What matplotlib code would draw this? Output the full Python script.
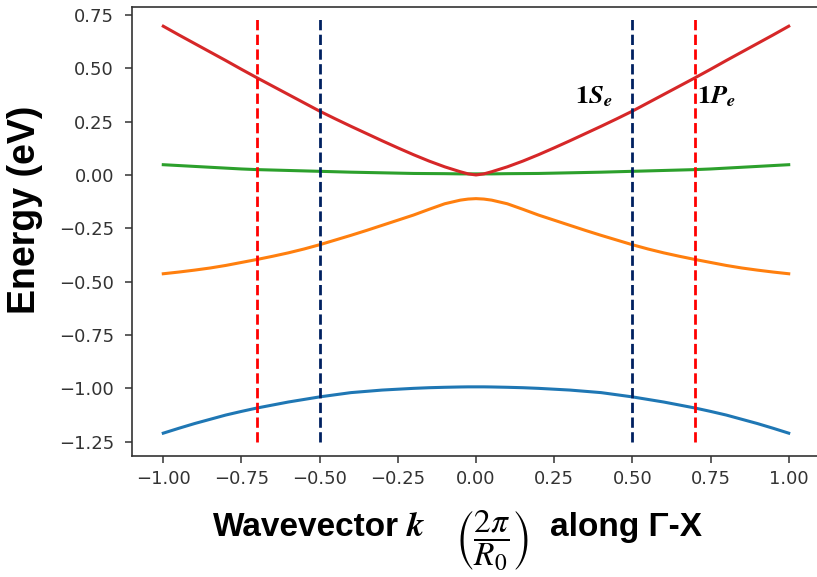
import matplotlib
matplotlib.use("Agg")
import matplotlib.pyplot as plt
import numpy as np

# wavevector samples (units of 2pi/R0)
k = [-1.0, -0.95, -0.9, -0.85, -0.8, -0.75, -0.7, -0.65, -0.6, -0.55, -0.5,
     -0.45, -0.4, -0.35, -0.3, -0.25, -0.2, -0.15, -0.1, -0.05, -0.025, 0.0,
     0.025, 0.05, 0.1, 0.15, 0.2, 0.25, 0.3, 0.35, 0.4, 0.45, 0.5,
     0.55, 0.6, 0.65, 0.7, 0.75, 0.8, 0.85, 0.9, 0.95, 1.0]

# bands (eV)
band_red = [0.697, 0.656, 0.616, 0.576, 0.536, 0.495, 0.455, 0.416, 0.377, 0.338, 0.299,
            0.263, 0.228, 0.194, 0.16, 0.127, 0.095, 0.065, 0.038, 0.015, 0.005, 0.0,
            0.005, 0.015, 0.038, 0.065, 0.095, 0.127, 0.16, 0.194, 0.228, 0.263, 0.299,
            0.338, 0.377, 0.416, 0.455, 0.495, 0.536, 0.576, 0.616, 0.656, 0.697]
band_green = [0.048, 0.044, 0.040, 0.036, 0.032, 0.028, 0.025, 0.023, 0.021, 0.019, 0.017,
              0.015, 0.013, 0.0115, 0.010, 0.0085, 0.007, 0.0065, 0.006, 0.005, 0.005, 0.005,
              0.005, 0.005, 0.006, 0.0065, 0.007, 0.0085, 0.010, 0.0115, 0.013, 0.015, 0.017,
              0.019, 0.021, 0.023, 0.025, 0.028, 0.032, 0.036, 0.040, 0.044, 0.048]
band_orange = [-0.463, -0.455, -0.446, -0.436, -0.424, -0.41, -0.396, -0.381, -0.365, -0.347, -0.327,
               -0.305, -0.283, -0.26, -0.236, -0.212, -0.188, -0.161, -0.135, -0.118, -0.113, -0.111,
               -0.113, -0.118, -0.135, -0.161, -0.188, -0.212, -0.236, -0.26, -0.283, -0.305, -0.327,
               -0.347, -0.365, -0.381, -0.396, -0.41, -0.424, -0.436, -0.446, -0.455, -0.463]
band_blue = [-1.21, -1.187, -1.165, -1.145, -1.125, -1.108, -1.092, -1.078, -1.064, -1.052, -1.04,
             -1.03, -1.02, -1.014, -1.008, -1.004, -1.0, -0.997, -0.995, -0.9935, -0.993, -0.993,
             -0.993, -0.9935, -0.995, -0.997, -1.0, -1.004, -1.008, -1.014, -1.02, -1.03, -1.04,
             -1.052, -1.064, -1.078, -1.092, -1.108, -1.125, -1.145, -1.165, -1.187, -1.21]

k_s = [-0.5, 0.5]   # 1S_e
k_p = [-0.7, 0.7]   # 1P_e

fig = plt.figure(figsize=(8.17, 5.77), dpi=100)
ax = fig.add_axes([132 / 817, 121 / 577, 688 / 817, 449 / 577])

ax.plot(k, band_blue, color="#1f77b4", lw=2.2)
ax.plot(k, band_orange, color="#ff7f0e", lw=2.2)
ax.plot(k, band_green, color="#2ca02c", lw=2.2)
ax.plot(k, band_red, color="#d62728", lw=2.2)

for x in k_p:
    ax.plot([x, x], [-1.25, 0.73], color="#ff0000", lw=2, ls="--")
for x in k_s:
    ax.plot([x, x], [-1.25, 0.73], color="#002060", lw=2, ls="--")

ax.set_xlim(-1.1, 1.1)
ax.set_ylim(-1.317, 0.787)
ax.set_xticks([-1.0, -0.75, -0.5, -0.25, 0.0, 0.25, 0.5, 0.75, 1.0])
ax.set_yticks([-1.25, -1.0, -0.75, -0.5, -0.25, 0.0, 0.25, 0.5, 0.75])
ax.tick_params(axis="both", labelsize=13, length=5, width=1.1, colors="#333333")
ax.tick_params(axis="y", pad=8)
ax.tick_params(axis="x", pad=5)
for s in ax.spines.values():
    s.set_linewidth(1.2)
    s.set_color("#333333")

ax.text(0.316, 0.366, r"$\mathbf{1}\mathbfit{S}_{\mathbfit{e}}$", fontsize=19,
        math_fontfamily="stix", ha="left", va="center")
ax.text(0.706, 0.366, r"$\mathbf{1}\mathbfit{P}_{\mathbfit{e}}$", fontsize=19,
        math_fontfamily="stix", ha="left", va="center")

fig.text(25 / 817, 1 - 210 / 577, "Energy (eV)", rotation=90, fontsize=27,
         fontweight="bold", family="Liberation Sans", ha="center", va="center")

# x label in pieces: text, bold k, the fraction, text
base = 1 - 536 / 577
fig.text(213 / 817, base, "Wavevector", fontsize=24, fontweight="bold",
         family="Liberation Sans", ha="left", va="baseline")
fig.text(406 / 817, base, r"$\mathbfit{k}$", fontsize=25,
         math_fontfamily="stix", ha="left", va="baseline")
fig.text(492 / 817, 1 - 540 / 577, r"$\left(\dfrac{2\pi}{R_0}\right)$", fontsize=24,
         math_fontfamily="stix", ha="center", va="center")
fig.text(550 / 817, base, "along Γ-X", fontsize=24, fontweight="bold",
         family="Liberation Sans", ha="left", va="baseline")

fig.savefig("out.png", dpi=100)
